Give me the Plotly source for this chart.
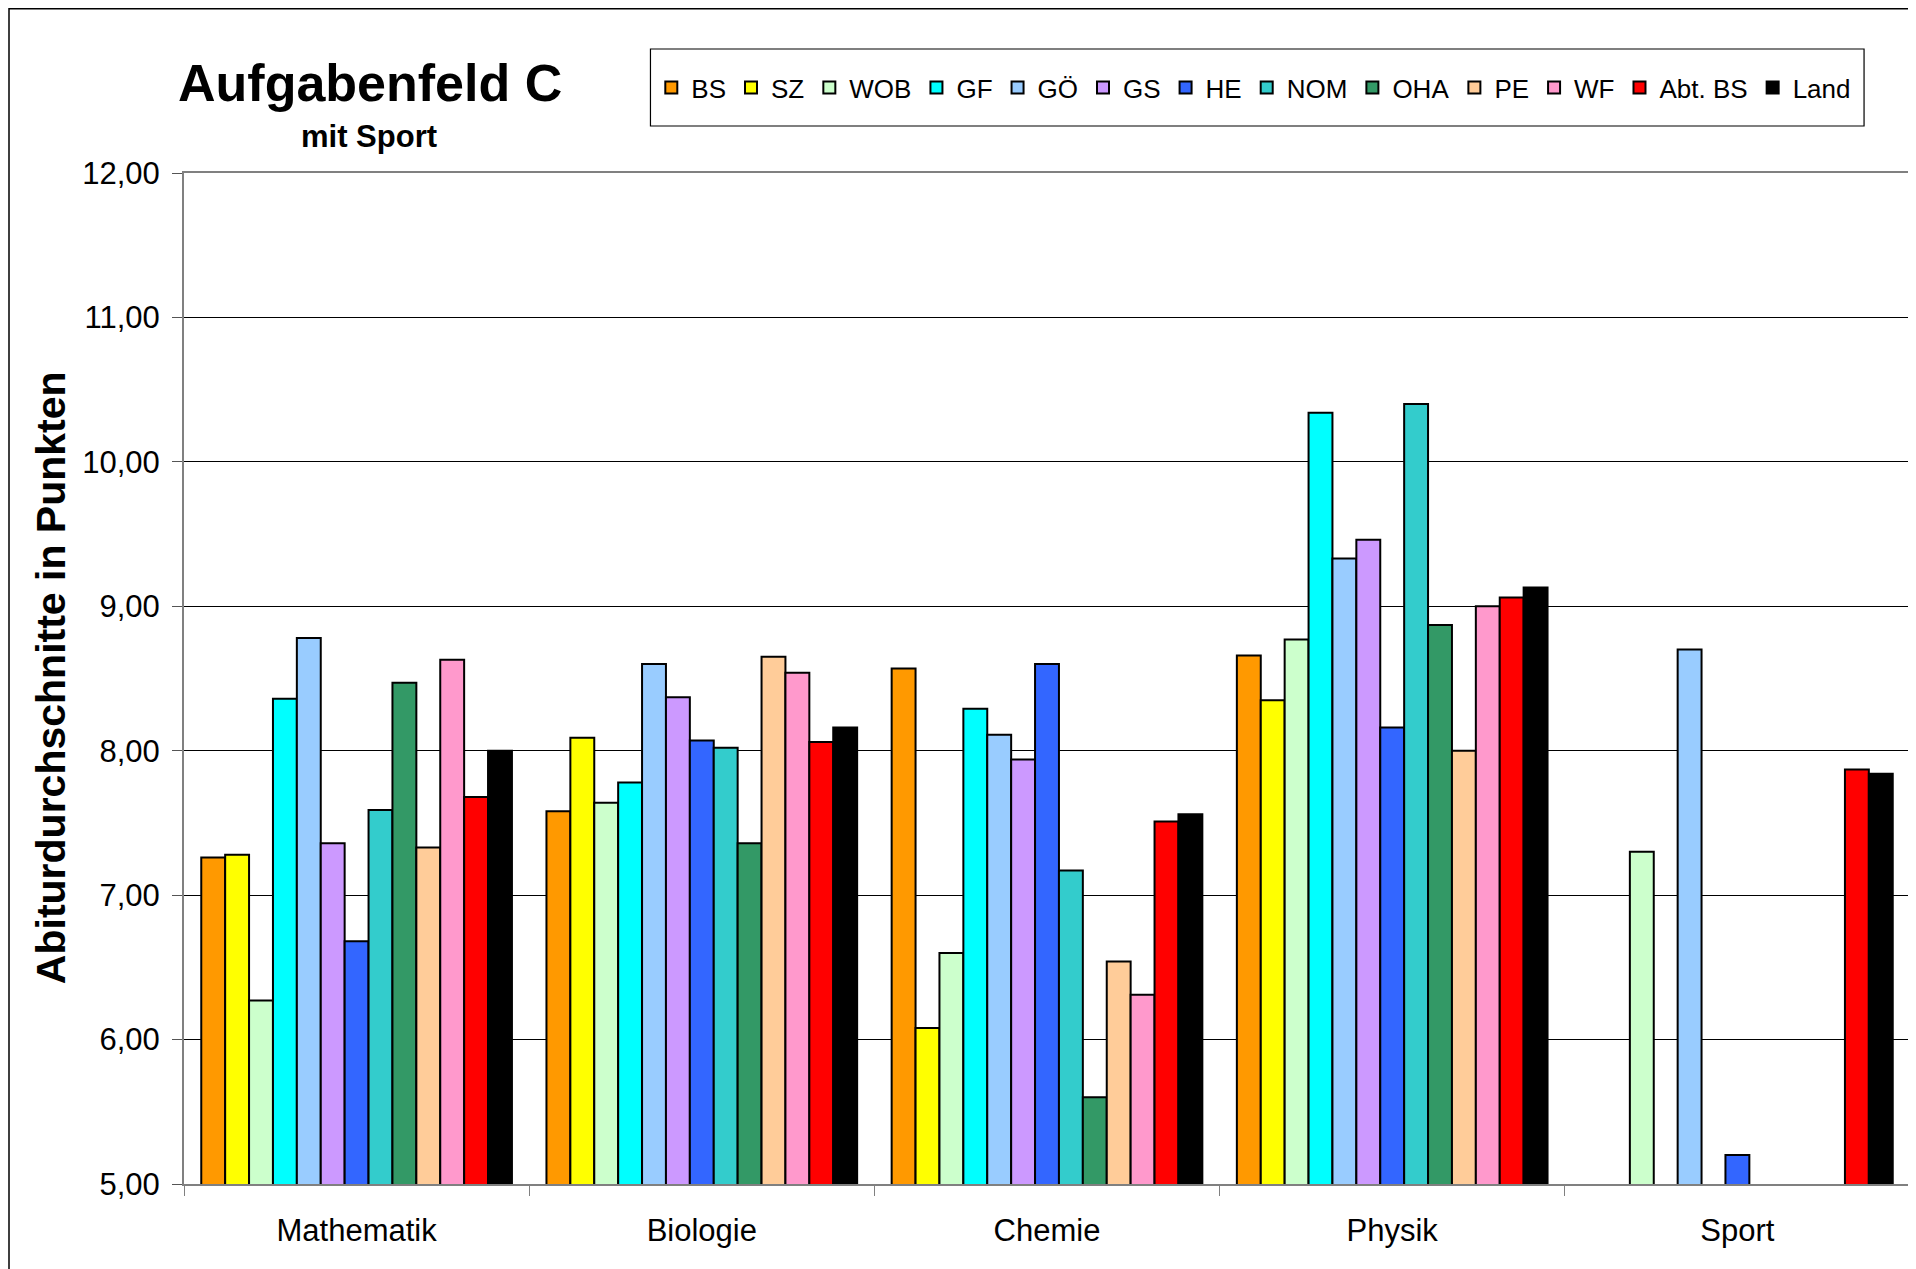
import plotly.graph_objects as go

categories = ["Mathematik", "Biologie", "Chemie", "Physik", "Sport"]
series_names = ["BS", "SZ", "WOB", "GF", "GÖ", "GS", "HE", "NOM", "OHA", "PE", "WF", "Abt. BS", "Land"]
series_colors = ["#FF9900", "#FFFF00", "#CCFFCC", "#00FFFF", "#99CCFF", "#CC99FF", "#3366FF",
                 "#33CCCC", "#339966", "#FFCC99", "#FF99CC", "#FF0000", "#000000"]

bs = [7.26, 7.58, 8.57, 8.66, None]
sz = [7.28, 8.09, 6.08, 8.35, None]
wob = [6.27, 7.64, 6.60, 8.77, 7.30]
gf = [8.36, 7.78, 8.29, 10.34, None]
goe = [8.78, 8.60, 8.11, 9.33, 8.70]
gs = [7.36, 8.37, 7.94, 9.46, None]
he = [6.68, 8.07, 8.60, 8.16, 5.20]
nom = [7.59, 8.02, 7.17, 10.40, None]
oha = [8.47, 7.36, 5.60, 8.87, None]
pe = [7.33, 8.65, 6.54, 8.00, None]
wf = [8.63, 8.54, 6.31, 9.00, None]
abt_bs = [7.68, 8.06, 7.51, 9.06, 7.87]
land = [8.00, 8.16, 7.56, 9.13, 7.84]

y_ticks = [5, 6, 7, 8, 9, 10, 11, 12]

series_values = [bs, sz, wob, gf, goe, gs, he, nom, oha, pe, wf, abt_bs, land]

# page body has an 8px offset; figure coords = reference coords - 8
OFF = 8
W, H = 1916 - OFF, 1269 - OFF
L, R, T, B = 184 - OFF, 1912 - OFF, 173 - OFF, 1184 - OFF
pw, ph = R - L, B - T

def px(x):
    return (x - OFF - L) / pw

def py(y):
    return (B - (y - OFF)) / ph

FONT = "Liberation Sans, Arial, sans-serif"

fig = go.Figure()
for name, color, vals in zip(series_names, series_colors, series_values):
    fig.add_trace(go.Bar(
        name=name, x=categories, y=vals,
        marker=dict(color=color, line=dict(color="#000000", width=2)),
    ))

fig.update_layout(
    width=W, height=H,
    margin=dict(l=L, r=W - R, t=T, b=H - B, pad=0),
    paper_bgcolor="white", plot_bgcolor="white",
    barmode="group", bargap=0.1, bargroupgap=0,
    separators=",.",
    font=dict(family=FONT, color="#000000"),
    showlegend=True,
    legend=dict(
        orientation="h",
        x=(px(651) + px(1866)) / 2 - 0.002, xanchor="center",
        y=(py(49) + py(126)) / 2, yanchor="middle",
        font=dict(size=26, family=FONT),
        bgcolor="rgba(0,0,0,0)", borderwidth=0,
        itemwidth=30, traceorder="normal",
    ),
    xaxis=dict(
        showline=True, linecolor="#808080", linewidth=2, mirror=True,
        ticks="outside", tickson="boundaries", ticklen=10, tickcolor="#808080",
        tickfont=dict(size=31, family=FONT),
        ticklabelstandoff=18,
        showgrid=False,
    ),
    yaxis=dict(
        range=[5, 12], tickvals=y_ticks, tickformat=".2f",
        showline=True, linecolor="#808080", linewidth=2, mirror=True,
        ticks="outside", ticklen=10, tickcolor="#555555",
        tickfont=dict(size=31, family=FONT),
        ticklabelstandoff=6,
        showgrid=True, gridcolor="#000000", gridwidth=1,
        zeroline=False,
    ),
    shapes=[
        dict(type="rect", xref="paper", yref="paper",
             x0=px(8.8), x1=px(1940), y0=py(1300), y1=py(8.8),
             line=dict(color="#000000", width=1.5), fillcolor="rgba(0,0,0,0)", layer="below"),
        dict(type="rect", xref="paper", yref="paper",
             x0=px(651), x1=px(1866), y0=py(126), y1=py(49),
             line=dict(color="#000000", width=1.2), fillcolor="white", layer="below"),
    ],
    annotations=[
        dict(text="<b>Aufgabenfeld C</b>", xref="paper", yref="paper",
             x=px(370), y=py(83), xanchor="center", yanchor="middle",
             showarrow=False, font=dict(size=52, family=FONT)),
        dict(text="<b>mit Sport</b>", xref="paper", yref="paper",
             x=px(369), y=py(136), xanchor="center", yanchor="middle",
             showarrow=False, font=dict(size=31, family=FONT)),
        dict(text="<b>Abiturdurchschnitte in Punkten</b>", xref="paper", yref="paper",
             x=px(51), y=py(678), xanchor="center", yanchor="middle", textangle=-90,
             showarrow=False, font=dict(size=41, family=FONT)),
    ],
)

fig.write_html("out.html")
